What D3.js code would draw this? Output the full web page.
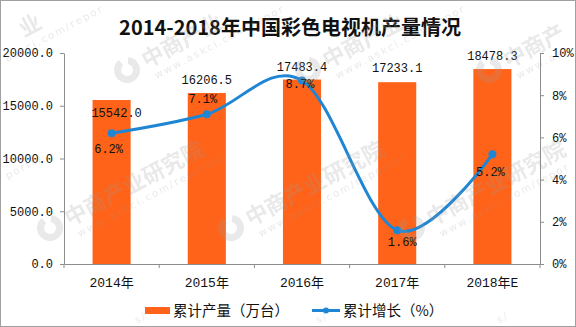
<!DOCTYPE html>
<html>
<head>
<meta charset="utf-8">
<script src="https://cdn.jsdelivr.net/npm/d3@7"></script>
<style>
  html, body { margin: 0; padding: 0; background: #fff; }
  svg { display: block; }
</style>
</head>
<body>
<svg id="chart" width="576" height="327"></svg>
<script>
// Colour TV output in China, 2014-2018
const years = ["2014年", "2015年", "2016年", "2017年", "2018年E"];
const output = [15542.0, 16206.5, 17483.4, 17233.1, 18478.3];   // 万台
const growth = [6.2, 7.1, 8.7, 1.6, 5.2];                        // %
const leftTicks = [0, 5000, 10000, 15000, 20000];
const rightTicks = [0, 2, 4, 6, 8, 10];

// label placement tweaks (dx, dy relative to the mark)
const barLabelOffset = [[5, 17], [0, -9], [0, -9], [0, -10], [0, -9]];
const lineLabelOffset = [[-3, 20], [-4, -11], [-2, 8], [5, 16], [-2, 22]];

const W = 576, H = 327;
const M = { left: 64, right: 540, top: 53, bottom: 264 };
const BAR = "#ff6319", LINE = "#1f86d4", AXIS = "#8c8c8c";
const MONO = "'Liberation Mono', 'DejaVu Sans Mono', monospace";
const CJK = "'Noto Sans CJK SC', 'Noto Sans', sans-serif";

const svg = d3.select("#chart");

// frame
svg.append("rect").attr("x", 0.5).attr("y", 0.5).attr("width", W - 1).attr("height", H - 1)
  .attr("fill", "#fff").attr("stroke", "#a0a0a0");

// title
svg.append("text").attr("x", 290).attr("y", 35).attr("text-anchor", "middle")
  .attr("font-family", CJK).attr("font-weight", "bold").attr("font-size", 20)
  .attr("fill", "#111").text("2014-2018年中国彩色电视机产量情况");

const x = d3.scaleBand().domain(years).range([M.left, M.right]).paddingInner(0.6).paddingOuter(0.3);
const band = d3.scaleBand().domain(years).range([M.left, M.right]);
const yL = d3.scaleLinear().domain([0, 20000]).range([M.bottom, M.top]);
const yR = d3.scaleLinear().domain([0, 10]).range([M.bottom, M.top]);

// bars
svg.append("g").selectAll("rect").data(output).join("rect")
  .attr("x", (d, i) => x(years[i]))
  .attr("width", x.bandwidth())
  .attr("y", d => yL(d))
  .attr("height", d => yL(0) - yL(d))
  .attr("fill", BAR);

// left axis
const gL = svg.append("g").attr("transform", `translate(${M.left},0)`)
  .call(d3.axisLeft(yL).tickValues(leftTicks).tickFormat(d3.format(".1f")).tickSize(4).tickSizeOuter(0).tickPadding(7));
// right axis
const gR = svg.append("g").attr("transform", `translate(${M.right},0)`)
  .call(d3.axisRight(yR).tickValues(rightTicks).tickFormat(d => d + "%").tickSize(4).tickSizeOuter(0).tickPadding(8));
// bottom axis with ticks at category boundaries
const gB = svg.append("g").attr("transform", `translate(0,${M.bottom})`)
  .call(d3.axisBottom(band).tickSize(0).tickSizeOuter(0).tickPadding(14));
const bounds = years.map(c => band(c)).concat([M.right]);
gB.selectAll("line.bound").data(bounds).join("line").attr("class", "bound")
  .attr("x1", d => d).attr("x2", d => d).attr("y1", 0).attr("y2", 4).attr("stroke", AXIS);

[gL, gR, gB].forEach(g => {
  g.select(".domain").attr("stroke", AXIS);
  g.selectAll(".tick line").attr("stroke", AXIS);
  g.selectAll("text").attr("fill", "#111").attr("font-family", MONO).attr("font-size", 12);
});
gB.selectAll("text").attr("font-family", MONO + ", " + CJK).attr("font-size", 13);

// growth line
const pts = growth.map((g, i) => [band(years[i]) + band.bandwidth() / 2, yR(g)]);
svg.append("path").attr("d", d3.line().curve(d3.curveCardinal.tension(0))(pts))
  .attr("fill", "none").attr("stroke", LINE).attr("stroke-width", 3).attr("stroke-linecap", "round");
svg.append("g").selectAll("circle").data(pts).join("circle")
  .attr("cx", d => d[0]).attr("cy", d => d[1]).attr("r", 4).attr("fill", LINE);

// bar value labels
svg.append("g").selectAll("text").data(output).join("text")
  .attr("x", (d, i) => x(years[i]) + x.bandwidth() / 2 + barLabelOffset[i][0])
  .attr("y", (d, i) => yL(d) + barLabelOffset[i][1])
  .attr("text-anchor", "middle").attr("font-family", MONO).attr("font-size", 12).attr("fill", "#111")
  .text(d => d.toFixed(1));

// growth labels
svg.append("g").selectAll("text").data(growth).join("text")
  .attr("x", (d, i) => pts[i][0] + lineLabelOffset[i][0])
  .attr("y", (d, i) => pts[i][1] + lineLabelOffset[i][1])
  .attr("text-anchor", "middle").attr("font-family", MONO).attr("font-size", 12).attr("fill", "#111")
  .text(d => d.toFixed(1) + "%");

// legend
const lg = svg.append("g");
lg.append("rect").attr("x", 145).attr("y", 307).attr("width", 25).attr("height", 7).attr("fill", BAR);
lg.append("text").attr("x", 173).attr("y", 316).attr("font-family", CJK).attr("font-size", 14.5)
  .attr("fill", "#111").text("累计产量（万台）");
lg.append("line").attr("x1", 312).attr("x2", 340).attr("y1", 310.5).attr("y2", 310.5)
  .attr("stroke", LINE).attr("stroke-width", 3);
lg.append("circle").attr("cx", 326).attr("cy", 310.5).attr("r", 3).attr("fill", LINE);
lg.append("text").attr("x", 343).attr("y", 316).attr("font-family", CJK).attr("font-size", 14.5)
  .attr("fill", "#111").text("累计增长（%）");

// faint publisher watermark, tiled; glyphs are set one by one so that
// those falling past the canvas edge can be dropped
const marks = [];
[[-88, 210], [70, 127], [228, 50], [386, -27]].forEach(([yy, x0]) => {
  for (let xx = x0 - 181 * 2; xx < W + 181; xx += 181) marks.push([xx, yy]);
});
const WM = "#9a9a9a";
const wm = svg.append("g").attr("opacity", 0.22).attr("pointer-events", "none");
function glyphRun(g, str, x0, y0, font, size, weight, gap) {
  let cx = x0;
  for (const ch of str) {
    const t = g.append("text").attr("class", "wmch").attr("x", cx).attr("y", y0)
      .attr("font-family", font).attr("font-size", size).attr("font-weight", weight)
      .attr("fill", WM).text(ch);
    cx += t.node().getComputedTextLength() + gap;
  }
}
marks.forEach(([mx, my]) => {
  const g = wm.append("g").attr("transform", `translate(${mx},${my}) rotate(-28)`);
  g.append("path").attr("d", d3.arc()({ innerRadius: 6, outerRadius: 13, startAngle: 0.6, endAngle: 2 * Math.PI - 0.2 }))
    .attr("fill", WM);
  glyphRun(g, "中商产业研究院", 18, 8, CJK, 22, "bold", 0);
  glyphRun(g, "www.askci.com/reports/", 22, 22, "'DejaVu Sans', sans-serif", 10, "normal", 2);
});
wm.selectAll("text.wmch").each(function () {
  const r = this.getBoundingClientRect();
  if (r.left < 1 || r.top < 1 || r.right > W - 1 || r.bottom > H - 1) this.remove();
});
</script>
</body>
</html>
